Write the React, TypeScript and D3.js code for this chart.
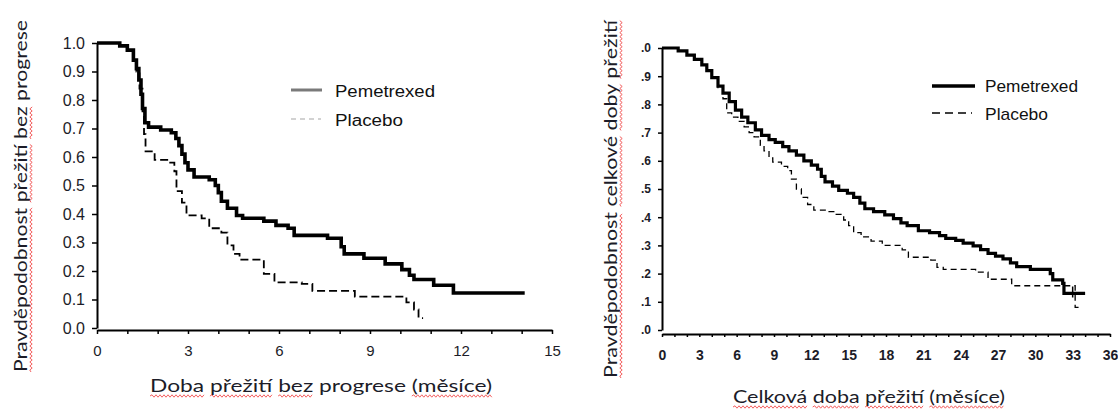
import React, { useEffect, useRef } from 'react';
import * as d3 from 'd3';

type Pt = [number, number];

// survival curves: [months, probability]
const pfsPemetrexed: Pt[] = [
  [0, 1.0], [0.75, 0.99], [1.0, 0.975], [1.2, 0.94], [1.3, 0.91], [1.38, 0.87], [1.45, 0.82],
  [1.5, 0.77], [1.58, 0.72], [1.7, 0.705], [2.1, 0.695], [2.45, 0.685], [2.6, 0.665], [2.7, 0.64],
  [2.8, 0.61], [2.9, 0.58], [3.0, 0.555], [3.2, 0.53], [3.7, 0.52], [3.9, 0.5], [4.0, 0.475],
  [4.1, 0.445], [4.3, 0.42], [4.6, 0.395], [4.8, 0.385], [5.5, 0.375], [5.9, 0.36], [6.3, 0.35],
  [6.5, 0.325], [7.6, 0.315], [8.05, 0.285], [8.15, 0.26], [8.8, 0.245], [9.5, 0.225],
  [10.05, 0.205], [10.3, 0.185], [10.45, 0.17], [11.1, 0.15], [11.75, 0.123], [14.1, 0.123],
];
const pfsPlacebo: Pt[] = [
  [0, 1.0], [0.75, 0.99], [1.0, 0.975], [1.2, 0.94], [1.3, 0.9], [1.4, 0.84], [1.5, 0.76],
  [1.55, 0.68], [1.6, 0.62], [1.9, 0.59], [2.35, 0.58], [2.55, 0.55], [2.62, 0.48], [2.8, 0.44],
  [2.95, 0.395], [3.45, 0.385], [3.7, 0.35], [4.1, 0.335], [4.3, 0.29], [4.5, 0.26], [4.7, 0.24],
  [5.5, 0.19], [5.85, 0.16], [6.75, 0.155], [7.1, 0.13], [8.5, 0.11], [10.2, 0.09], [10.45, 0.065],
  [10.6, 0.035], [10.75, 0.035],
];
const osPemetrexed: Pt[] = [
  [0, 1.0], [0.9, 1.0], [1.3, 0.99], [2.0, 0.975], [2.6, 0.96], [3.2, 0.94], [3.6, 0.92],
  [4.0, 0.895], [4.5, 0.865], [4.9, 0.84], [5.4, 0.81], [5.9, 0.78], [6.4, 0.755], [6.9, 0.735],
  [7.5, 0.71], [8.0, 0.69], [8.6, 0.675], [9.1, 0.665], [9.7, 0.65], [10.2, 0.635], [10.8, 0.62],
  [11.4, 0.6], [12.0, 0.585], [12.5, 0.57], [12.8, 0.545], [13.1, 0.525], [13.7, 0.51],
  [14.2, 0.495], [14.9, 0.485], [15.4, 0.47], [15.9, 0.45], [16.3, 0.43], [17.0, 0.42],
  [17.9, 0.408], [18.6, 0.395], [19.2, 0.38], [19.7, 0.37], [20.6, 0.352], [21.5, 0.345],
  [22.3, 0.335], [22.8, 0.325], [23.6, 0.318], [24.2, 0.308], [25.0, 0.298], [25.6, 0.285],
  [26.2, 0.272], [26.8, 0.262], [27.4, 0.252], [28.0, 0.238], [28.5, 0.225], [29.6, 0.215],
  [31.2, 0.2], [31.4, 0.178], [32.2, 0.165], [32.3, 0.13], [34.0, 0.13],
];
const osPlacebo: Pt[] = [
  [0, 1.0], [0.9, 1.0], [1.3, 0.99], [2.0, 0.975], [2.6, 0.96], [3.2, 0.94], [3.6, 0.92],
  [4.0, 0.895], [4.5, 0.86], [4.9, 0.82], [5.2, 0.77], [5.6, 0.755], [6.1, 0.74], [6.6, 0.72],
  [7.0, 0.7], [7.4, 0.685], [7.9, 0.655], [8.2, 0.635], [8.6, 0.61], [8.9, 0.595], [9.6, 0.58],
  [10.1, 0.565], [10.4, 0.535], [10.8, 0.5], [11.2, 0.47], [11.7, 0.445], [12.2, 0.425],
  [13.2, 0.42], [14.0, 0.41], [14.6, 0.39], [15.0, 0.37], [15.4, 0.345], [16.0, 0.33],
  [16.8, 0.315], [17.7, 0.3], [19.3, 0.284], [19.8, 0.258], [21.6, 0.248], [22.1, 0.222],
  [22.6, 0.215], [25.2, 0.205], [26.2, 0.18], [28.1, 0.157], [32.9, 0.157], [33.2, 0.08],
  [33.6, 0.08],
];
const osCensored: Pt[] = [[33.0, 0.133]];

const seriesNames = ['Pemetrexed', 'Placebo'];

const pfsXTicks = [0, 3, 6, 9, 12, 15];
const pfsYTicks = [0, 0.1, 0.2, 0.3, 0.4, 0.5, 0.6, 0.7, 0.8, 0.9, 1.0];
const pfsYLabels = ['0.0', '0.1', '0.2', '0.3', '0.4', '0.5', '0.6', '0.7', '0.8', '0.9', '1.0'];
const osXTicks = [0, 3, 6, 9, 12, 15, 18, 21, 24, 27, 30, 33, 36];
const osYTicks = [0, 0.1, 0.2, 0.3, 0.4, 0.5, 0.6, 0.7, 0.8, 0.9, 1.0];
const osYLabels = ['.0', '.1', '.2', '.3', '.4', '.5', '.6', '.7', '.8', '.9', '.0'];

// [word, flagged by the spell checker]
type Word = [string, boolean];
const pfsYTitle: Word[] = [['Pravděpodobnost', true], ['přežití', true], ['bez', true], ['progrese', false]];
const pfsXTitle: Word[] = [['Doba', true], ['přežití', true], ['bez', true], ['progrese', false], ['(měsíce)', true]];
const osYTitle: Word[] = [['Pravděpodobnost', true], ['celkové', true], ['doby', true], ['přežití', true]];
const osXTitle: Word[] = [['Celková', true], ['doba', true], ['přežití', true], ['(měsíce)', true]];

const W = 1118;
const H = 410;
const titleFont = 'Lato, "Open Sans", sans-serif';
const ink = '#1c1c28';

function squiggle(x0: number, x1: number, y: number) {
  let d = `M${x0},${y}`;
  let up = true;
  for (let x = x0 + 2; x <= x1; x += 2) {
    d += `L${x},${y + (up ? -1.2 : 1.2)}`;
    up = !up;
  }
  return d;
}

function drawTitle(svg: any, words: Word[], x: number, y: number, angle: number, len: number) {
  const g = svg.append('g').attr('transform', `translate(${x},${y}) rotate(${angle})`);
  const text = g.append('text')
    .attr('text-anchor', 'middle')
    .attr('font-family', titleFont)
    .attr('font-size', 17)
    .attr('fill', ink)
    .attr('textLength', len)
    .attr('lengthAdjust', 'spacingAndGlyphs');
  const spans: any[] = [];
  words.forEach((w, i) => {
    spans.push(text.append('tspan').text(w[0] + (i < words.length - 1 ? ' ' : '')));
  });
  words.forEach((w, i) => {
    if (!w[1]) return;
    const node = spans[i].node();
    const n = w[0].length;
    const x0 = node.getStartPositionOfChar(0).x;
    const x1 = node.getEndPositionOfChar(n - 1).x;
    g.append('path')
      .attr('d', squiggle(x0, x1, 4))
      .attr('fill', 'none')
      .attr('stroke', '#f03a3a')
      .attr('stroke-width', 1)
      .attr('opacity', 0.8);
  });
}

function App() {
  const ref = useRef<SVGSVGElement>(null);

  useEffect(() => {
    document.body.style.margin = '0';
    const svg = d3.select(ref.current);
    svg.selectAll('*').remove();

    const line = (x: any, y: any) => d3.line<Pt>()
      .x(d => x(d[0]))
      .y(d => y(d[1]))
      .curve(d3.curveStepAfter);

    // ---------- left: progression free survival ----------
    const x1 = d3.scaleLinear().domain([0, 15]).range([97, 552]);
    const y1 = d3.scaleLinear().domain([0, 1]).range([328, 43]);

    const ax1 = svg.append('g').attr('transform', `translate(0,${y1(0) + 2})`)
      .call(d3.axisBottom(x1).tickValues(d3.range(0, 16)).tickSize(4).tickSizeOuter(0).tickPadding(11)
        .tickFormat((d: any) => (pfsXTicks.includes(d) ? String(d) : '')));
    const ay1 = svg.append('g').attr('transform', `translate(${x1(0)},0)`)
      .call(d3.axisLeft(y1).tickValues(pfsYTicks).tickSize(5).tickSizeOuter(0).tickPadding(7)
        .tickFormat((d: any, i: number) => pfsYLabels[i]));
    [ax1, ay1].forEach(a => {
      a.select('.domain').attr('stroke', '#000').attr('stroke-width', 2);
      a.selectAll('.tick line').attr('stroke', '#000').attr('stroke-width', 1.5);
      a.selectAll('text').attr('font-family', '"Liberation Sans", Arial, sans-serif')
        .attr('font-size', 16).attr('fill', ink);
    });
    ax1.selectAll('text').attr('font-size', 15);

    svg.append('path').datum(pfsPlacebo).attr('d', line(x1, y1))
      .attr('fill', 'none').attr('stroke', '#000').attr('stroke-width', 1.8)
      .attr('stroke-dasharray', '8,4');
    svg.append('path').datum(pfsPemetrexed).attr('d', line(x1, y1))
      .attr('fill', 'none').attr('stroke', '#000').attr('stroke-width', 3.6);

    // legend (greyed out in the original)
    svg.append('line').attr('x1', 291).attr('x2', 322).attr('y1', 90).attr('y2', 90)
      .attr('stroke', '#7a7a7a').attr('stroke-width', 3);
    svg.append('line').attr('x1', 291).attr('x2', 321).attr('y1', 119).attr('y2', 119)
      .attr('stroke', '#c4c4c4').attr('stroke-width', 1.6).attr('stroke-dasharray', '5,4');
    svg.append('text').attr('x', 335).attr('y', 97).text(seriesNames[0])
      .attr('font-family', '"Liberation Sans", Arial, sans-serif').attr('font-size', 16)
      .attr('textLength', 100).attr('lengthAdjust', 'spacingAndGlyphs').attr('fill', '#111');
    svg.append('text').attr('x', 335).attr('y', 126).text(seriesNames[1])
      .attr('font-family', '"Liberation Sans", Arial, sans-serif').attr('font-size', 16)
      .attr('textLength', 68).attr('lengthAdjust', 'spacingAndGlyphs').attr('fill', '#111');

    drawTitle(svg, pfsYTitle, 27, 196, -90, 352);
    drawTitle(svg, pfsXTitle, 321, 392, 0, 342);

    // ---------- right: overall survival ----------
    const x2 = d3.scaleLinear().domain([0, 36]).range([662, 1110]);
    const y2 = d3.scaleLinear().domain([0, 1]).range([330, 48]);

    const ax2 = svg.append('g').attr('transform', `translate(0,${y2(0) + 4})`)
      .call(d3.axisBottom(x2).tickValues(d3.range(0, 37)).tickSize(3).tickSizeOuter(0).tickPadding(13)
        .tickFormat((d: any) => (osXTicks.includes(d) ? String(d) : '')));
    const ay2 = svg.append('g').attr('transform', `translate(${x2(0)},0)`)
      .call(d3.axisLeft(y2).tickValues(osYTicks).tickSize(4).tickSizeOuter(0).tickPadding(7)
        .tickFormat((d: any, i: number) => osYLabels[i]));
    [ax2, ay2].forEach(a => {
      a.select('.domain').attr('stroke', '#000').attr('stroke-width', 2);
      a.selectAll('.tick line').attr('stroke', '#000').attr('stroke-width', 1.5);
      a.selectAll('text').attr('font-family', '"Liberation Sans Narrow", "Liberation Sans", sans-serif')
        .attr('font-weight', 'bold').attr('fill', ink);
    });
    ax2.selectAll('text').attr('font-size', 14);
    ay2.selectAll('text').attr('font-size', 12);

    svg.append('path').datum(osPlacebo).attr('d', line(x2, y2))
      .attr('fill', 'none').attr('stroke', '#000').attr('stroke-width', 1.3)
      .attr('stroke-dasharray', '6,4');
    svg.append('path').datum(osPemetrexed).attr('d', line(x2, y2))
      .attr('fill', 'none').attr('stroke', '#000').attr('stroke-width', 3.2);
    svg.selectAll('.censor').data(osCensored).enter().append('line')
      .attr('class', 'censor')
      .attr('x1', d => x2(d[0])).attr('x2', d => x2(d[0]))
      .attr('y1', d => y2(d[1]) - 6).attr('y2', d => y2(d[1]) + 5)
      .attr('stroke', '#000').attr('stroke-width', 1.5);

    svg.append('line').attr('x1', 932).attr('x2', 975).attr('y1', 86).attr('y2', 86)
      .attr('stroke', '#000').attr('stroke-width', 3.4);
    svg.append('line').attr('x1', 932).attr('x2', 972).attr('y1', 113).attr('y2', 113)
      .attr('stroke', '#000').attr('stroke-width', 1.3).attr('stroke-dasharray', '8,5');
    svg.append('text').attr('x', 985).attr('y', 92).text(seriesNames[0])
      .attr('font-family', '"Liberation Sans Narrow", "Liberation Sans", sans-serif').attr('font-size', 17)
      .attr('textLength', 93).attr('lengthAdjust', 'spacingAndGlyphs').attr('fill', '#111');
    svg.append('text').attr('x', 985).attr('y', 120).text(seriesNames[1])
      .attr('font-family', '"Liberation Sans Narrow", "Liberation Sans", sans-serif').attr('font-size', 17)
      .attr('textLength', 63).attr('lengthAdjust', 'spacingAndGlyphs').attr('fill', '#111');

    drawTitle(svg, osYTitle, 617, 199, -90, 358);
    drawTitle(svg, osXTitle, 869, 403, 0, 272);
  }, []);

  return (
    <svg ref={ref} width={W} height={H} style={{ display: 'block', background: '#fff' }} />
  );
}

export default App;
